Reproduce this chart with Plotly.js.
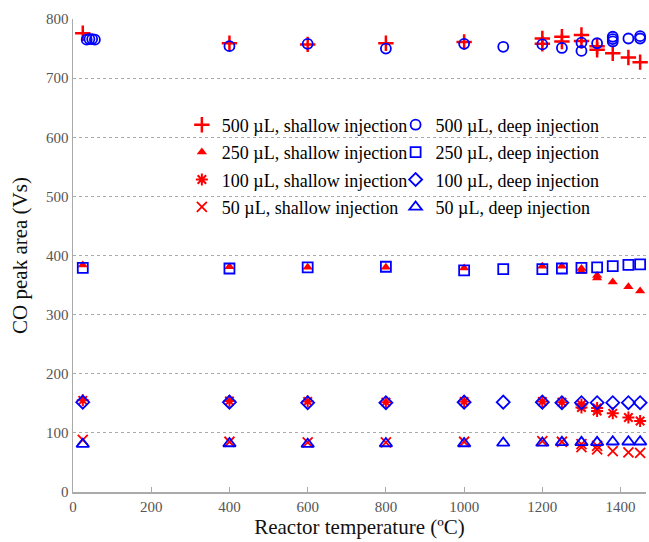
<!DOCTYPE html>
<html>
<head>
<meta charset="utf-8">
<script src="https://cdn.plot.ly/plotly-3.0.1.min.js"></script>
<style>html,body{margin:0;padding:0;background:#fff}#chart{width:649px;height:542px}</style>
</head>
<body>
<div id="chart"></div>
<script>
// 500 µL
const t500s = [25, 400, 600, 800, 1000, 1200, 1200, 1250, 1250, 1300, 1300, 1340, 1340, 1380, 1420, 1450];
const v500s = [776, 759, 757, 759, 761, 767, 758, 770, 762, 773, 763, 754, 748, 742, 735, 727];
const t500d = [35, 42, 49, 56, 400, 600, 800, 1000, 1100, 1200, 1250, 1300, 1300, 1340, 1380, 1380, 1380, 1420, 1450, 1450];
const v500d = [765, 766, 766, 765, 754, 758, 750, 758, 753, 757, 751, 760, 746, 759, 770, 766, 762, 767, 771, 767];
// 250 µL
const t250s = [25, 400, 600, 800, 1000, 1200, 1250, 1300, 1300, 1340, 1340, 1380, 1420, 1450];
const v250s = [384, 381, 380, 380, 379, 382, 382, 378, 373, 366, 362, 355, 347, 340];
const t250d = [25, 400, 600, 800, 1000, 1100, 1200, 1250, 1300, 1340, 1380, 1420, 1450];
const v250d = [379, 378, 380, 381, 375, 377, 377, 378, 379, 380, 382, 384, 385];
// 100 µL
const t100s = [25, 400, 600, 800, 1000, 1200, 1250, 1300, 1300, 1340, 1340, 1380, 1420, 1450];
const v100s = [155, 154, 153, 152, 153, 153, 152, 148, 143, 142, 137, 133, 126, 120];
const t100d = [25, 400, 600, 800, 1000, 1100, 1200, 1250, 1300, 1340, 1380, 1420, 1450];
const v100d = [152, 152, 151, 151, 152, 152, 152, 151, 151, 151, 151, 151, 151];
// 50 µL
const t50s = [25, 400, 600, 800, 1000, 1200, 1250, 1300, 1300, 1340, 1340, 1380, 1420, 1450];
const v50s = [88, 85, 84, 84, 85, 86, 85, 81, 76, 78, 72, 69, 67, 66];
const t50d = [25, 400, 600, 800, 1000, 1100, 1200, 1250, 1300, 1340, 1380, 1420, 1450];
const v50d = [81, 82, 81, 82, 82, 83, 83, 84, 84, 84, 85, 85, 85];

const namesShallow = ["500 µL, shallow injection", "250 µL, shallow injection", "100 µL, shallow injection", "50 µL, shallow injection"];
const namesDeep = ["500 µL, deep injection", "250 µL, deep injection", "100 µL, deep injection", "50 µL, deep injection"];

const RED = "#ff0000", BLUE = "#0000ff";
const serif = "'Liberation Serif', 'Times New Roman', Times, serif";

function tr(x, y, name, symbol, color, size, lw, legend, grp) {
  return {
    x: x, y: y, name: name, type: "scatter", mode: "markers",
    legend: legend, legendgroup: grp,
    marker: {symbol: symbol, size: size, color: color, line: {color: color, width: lw}},
    cliponaxis: false
  };
}

const data = [
  tr(t500s, v500s, namesShallow[0], "cross-thin-open", RED, 11, 2.5, "legend", "a"),
  tr(t250s, v250s, namesShallow[1], "triangle-up", RED, 9, 0, "legend", "b"),
  tr(t100s, v100s, namesShallow[2], "asterisk-open", RED, 10, 2, "legend", "c"),
  tr(t50s, v50s, namesShallow[3], "x-thin-open", RED, 10, 1.8, "legend", "d"),
  tr(t500d, v500d, namesDeep[0], "circle-open", BLUE, 10, 1.8, "legend2", "e"),
  tr(t250d, v250d, namesDeep[1], "square-open", BLUE, 10, 1.8, "legend2", "f"),
  tr(t100d, v100d, namesDeep[2], "diamond-open", BLUE, 10, 1.8, "legend2", "g"),
  tr(t50d, v50d, namesDeep[3], "triangle-up-open", BLUE, 11, 1.8, "legend2", "h")
];

const legendBase = {
  font: {family: serif, size: 18, color: "#000"},
  bgcolor: "rgba(0,0,0,0)",
  borderwidth: 0,
  tracegroupgap: 1,
  xanchor: "left", yanchor: "top", y: 0.815
};

const layout = {
  width: 649, height: 542,
  margin: {l: 73, r: 3, t: 19, b: 50},
  paper_bgcolor: "#fff", plot_bgcolor: "#fff",
  font: {family: serif, color: "#333"},
  showlegend: true,
  legend: Object.assign({}, legendBase, {x: 0.19}),
  legend2: Object.assign({}, legendBase, {x: 0.563}),
  xaxis: {
    range: [0, 1465], dtick: 200, tick0: 0,
    showgrid: false, zeroline: false,
    showline: true, linecolor: "#aaaaaa", linewidth: 1.5,
    ticks: "inside", ticklen: 5, tickcolor: "#aaaaaa",
    tickfont: {family: serif, size: 15, color: "#555"},
    title: {text: "Reactor temperature (ºC)", font: {family: serif, size: 21, color: "#111"}, standoff: 6}
  },
  yaxis: {
    range: [0, 800], dtick: 100, tick0: 0,
    showgrid: true, gridcolor: "#aaaaaa", griddash: "dot", gridwidth: 1,
    zeroline: false,
    showline: true, linecolor: "#aaaaaa", linewidth: 1.5,
    ticks: "",
    tickfont: {family: serif, size: 15, color: "#555"},
    title: {text: "CO peak area (Vs)", font: {family: serif, size: 21, color: "#111"}, standoff: 12}
  }
};

Plotly.newPlot("chart", data, layout, {staticPlot: true, displayModeBar: false});
</script>
</body>
</html>
